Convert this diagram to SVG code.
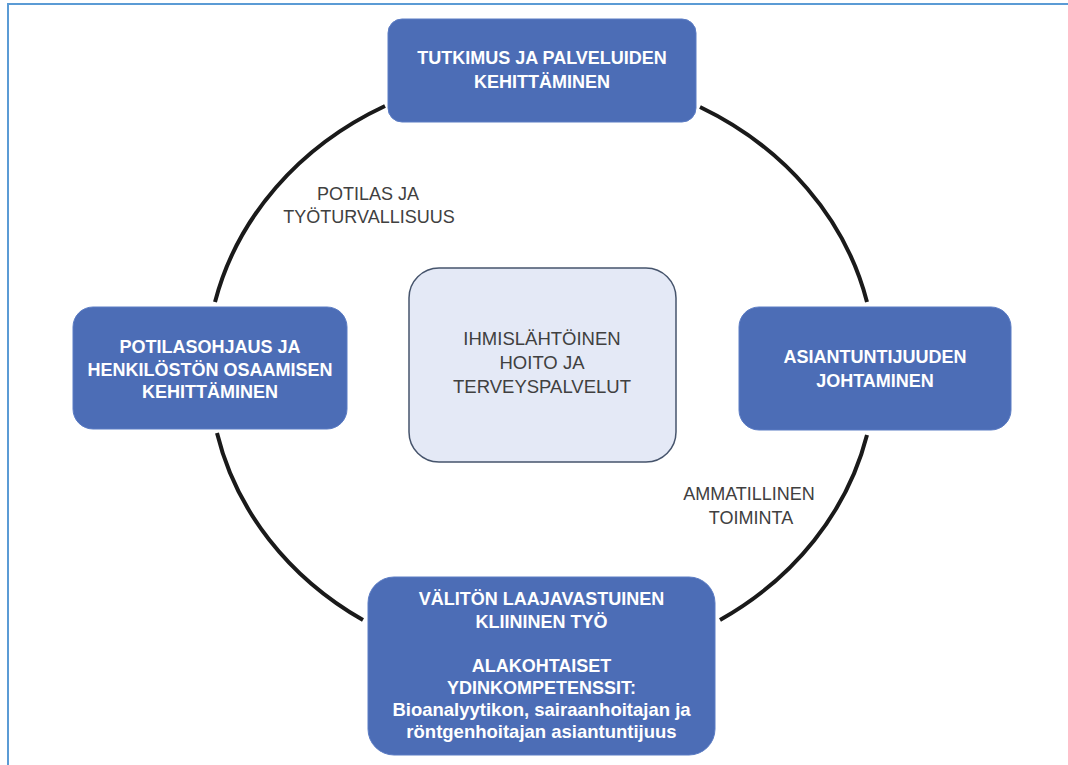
<svg xmlns="http://www.w3.org/2000/svg" width="1068" height="765" viewBox="0 0 1068 765">
<style>
.box{fill:#4c6db6;stroke:#5b7cc4;stroke-width:1}
.bt{font-family:"Liberation Sans",Arial,sans-serif;font-weight:bold;font-size:18px;fill:#ffffff;text-anchor:middle}
.bt2{font-family:"Liberation Sans",Arial,sans-serif;font-weight:bold;font-size:18.5px;fill:#ffffff;text-anchor:middle}
.lt{font-family:"Liberation Sans",Arial,sans-serif;font-size:18px;fill:#404040;text-anchor:middle}
.ct{font-family:"Liberation Sans",Arial,sans-serif;font-size:18.5px;fill:#404040;text-anchor:middle}
.arc{fill:none;stroke:#1a1a1a;stroke-width:4;stroke-linecap:butt}
</style>
<rect x="0" y="0" width="1068" height="765" fill="#ffffff"/>
<path d="M8 765 L8 4 L1068 4" fill="none" stroke="#5b9bd5" stroke-width="2"/>
<g id="connectors">
<path class="arc" d="M385 106 A334 297 0 0 0 215 302"/>
<path class="arc" d="M700 107 A334 297 0 0 1 867 302"/>
<path class="arc" d="M867 435 A334 297 0 0 1 720 620"/>
<path class="arc" d="M363 620 A334 297 0 0 1 217 433"/>
</g>
<g id="label-potilas">
<text class="lt" x="368" y="200">POTILAS JA</text>
<text class="lt" x="369" y="223">TYÖTURVALLISUUS</text>
</g>
<g id="label-ammatillinen">
<text class="lt" x="749" y="500">AMMATILLINEN</text>
<text class="lt" x="751" y="524">TOIMINTA</text>
</g>
<g id="node-top">
<rect class="box" x="388" y="19" width="308" height="103" rx="14"/>
<text class="bt" x="542" y="64">TUTKIMUS JA PALVELUIDEN</text>
<text class="bt" x="542" y="88">KEHITTÄMINEN</text>
</g>
<g id="node-left">
<rect class="box" x="73" y="307" width="274" height="122" rx="20"/>
<text class="bt" x="210" y="353">POTILASOHJAUS JA</text>
<text class="bt" x="210" y="376">HENKILÖSTÖN OSAAMISEN</text>
<text class="bt" x="210" y="398">KEHITTÄMINEN</text>
</g>
<g id="node-right">
<rect class="box" x="739" y="307" width="272" height="123" rx="20"/>
<text class="bt" x="875" y="363">ASIANTUNTIJUUDEN</text>
<text class="bt" x="875" y="387">JOHTAMINEN</text>
</g>
<g id="node-center">
<rect x="409" y="268" width="267" height="194" rx="30" fill="#e4e9f6" stroke="#46546c" stroke-width="1.5"/>
<text class="ct" x="542" y="345">IHMISLÄHTÖINEN</text>
<text class="ct" x="542" y="369">HOITO JA</text>
<text class="ct" x="542" y="393">TERVEYSPALVELUT</text>
</g>
<g id="node-bottom">
<rect class="box" x="368" y="577" width="347" height="178" rx="26"/>
<text class="bt" x="541.5" y="605">VÄLITÖN LAAJAVASTUINEN</text>
<text class="bt" x="541.5" y="628">KLIININEN TYÖ</text>
<text class="bt" x="541.5" y="672">ALAKOHTAISET</text>
<text class="bt" x="541.5" y="694">YDINKOMPETENSSIT:</text>
<text class="bt2" x="541.5" y="716">Bioanalyytikon, sairaanhoitajan ja</text>
<text class="bt2" x="541.5" y="738">röntgenhoitajan asiantuntijuus</text>
</g>
</svg>
